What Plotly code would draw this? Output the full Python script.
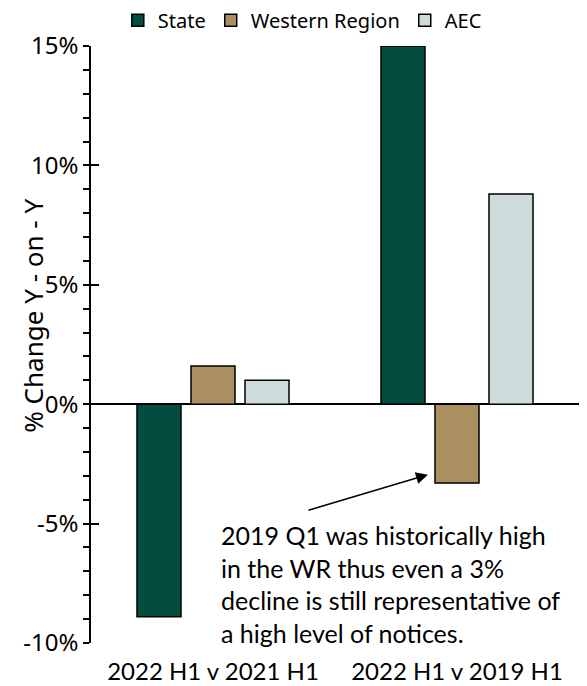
import plotly.graph_objects as go

categories = ["2022 H1 v 2021 H1", "2022 H1 v 2019 H1"]
series_names = ["State", "Western Region", "AEC"]
state_vals = [-8.9, 15.0]
wr_vals = [1.6, -3.3]
aec_vals = [1.0, 8.8]
colors = ["#024d40", "#aa8f60", "#cddbdb"]
y_ticks = [-10, -5, 0, 5, 10, 15]
y_tick_labels = ["-10%", "-5%", "0%", "5%", "10%", "15%"]
note_text = ("2019 Q1 was historically high<br>in the WR thus even a 3%<br>"
             "decline is still representative of<br>a high level of notices.")

fig = go.Figure()
for name, vals, col in zip(series_names, [state_vals, wr_vals, aec_vals], colors):
    fig.add_trace(go.Bar(
        x=categories, y=vals, name=name,
        marker=dict(color=col, line=dict(color="black", width=1.5)),
        hoverinfo="skip",
    ))

# helper trace for crossing major ticks
fig.add_trace(go.Scatter(x=categories, y=[None, None], yaxis="y2",
                         showlegend=False, hoverinfo="skip", mode="lines"))

# page body adds an 8px offset, so the figure is sized to 579x678
fig.update_layout(
    width=579, height=678,
    margin=dict(l=83, r=8, t=38, b=43, autoexpand=False),
    paper_bgcolor="white", plot_bgcolor="white",
    barmode="group", bargap=0.336, bargroupgap=0.185,
    showlegend=True,
    legend=dict(orientation="h", x=0.433, xanchor="center", y=1.043, yanchor="middle",
                font=dict(family="Noto Sans", size=20, color="black"),
                traceorder="normal", itemclick=False, itemdoubleclick=False,
                bgcolor="rgba(0,0,0,0)"),
    xaxis=dict(showline=False, showgrid=False, ticks="outside", ticklen=7,
               tickcolor="rgba(0,0,0,0)", automargin=False,
               tickfont=dict(family="Lato", size=24, color="black"),
               fixedrange=True),
    yaxis=dict(range=[-10, 15], tickvals=y_ticks, ticktext=y_tick_labels,
               showgrid=False, showline=True, linecolor="black", linewidth=1.5,
               ticks="outside", ticklen=6, tickwidth=1.5, tickcolor="black",
               minor=dict(dtick=1, ticks="outside", ticklen=6, tickwidth=1.5,
                          tickcolor="black", showgrid=False),
               zeroline=True, zerolinecolor="black", zerolinewidth=2,
               tickfont=dict(family="Noto Sans", size=24, color="black"),
               automargin=False, fixedrange=True),
    yaxis2=dict(range=[-10, 15], tickvals=y_ticks, overlaying="y", side="left",
                showticklabels=False, showgrid=False, showline=False,
                zeroline=False, ticks="inside", ticklen=8, tickwidth=1.5,
                tickcolor="black", automargin=False, fixedrange=True),
)

fig.add_annotation(
    text="% Change Y - on - Y", textangle=-90,
    xref="paper", yref="paper", x=-0.119, y=0.548,
    xanchor="center", yanchor="middle", showarrow=False,
    font=dict(family="Noto Sans", size=26, color="black"),
)

fig.add_annotation(
    text=note_text, xref="x", yref="y", x=0.024, y=-4.75,
    xanchor="left", yanchor="top", align="left", showarrow=False,
    font=dict(family="Lato", size=25, color="black"),
)

fig.add_annotation(
    text="", xref="x", yref="y", axref="x", ayref="y",
    x=0.881, y=-2.95, ax=0.385, ay=-4.46,
    showarrow=True, arrowhead=2, arrowsize=1.6, arrowwidth=1.5,
    arrowcolor="black", standoff=0,
)

fig.write_html("out.html")
